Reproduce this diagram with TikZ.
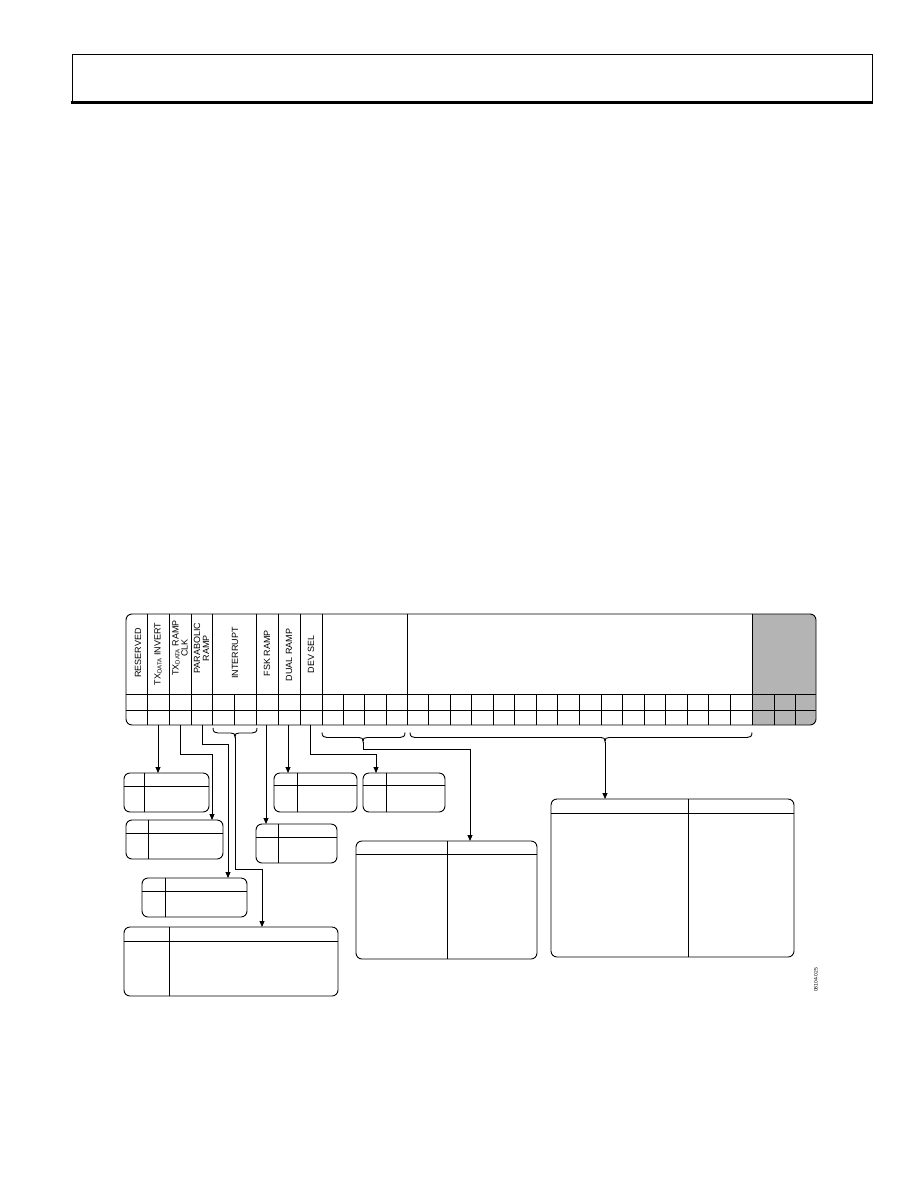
\documentclass[tikz,border=0pt]{standalone}
\usepackage{fontspec}
\setmainfont{Liberation Sans}
\usetikzlibrary{arrows.meta}
\definecolor{shadec}{RGB}{180,180,180}
\newcommand\regbox[7]{%
  \node[tbox, anchor=north west, minimum width={(#4-#2)*1pt}, minimum height={(#5-#3)*1pt}] (#1) at (#2,#3) {};
  \draw (#6,#3) -- (#6,#5);
  \draw (#2,#7) -- (#4,#7);}
\newcommand\bracedraw[5]{% x1 x2 xtip yline tipname
  \draw (#1,#4-5) .. controls (#1,#4-1) and (#1+2,#4) .. (#1+5,#4) -- (#3-4,#4)
    .. controls (#3-1,#4) and (#3,#4+1) .. (#3,#4+4)
    .. controls (#3,#4+1) and (#3+1,#4) .. (#3+4,#4) -- (#2-5,#4)
    .. controls (#2-2,#4) and (#2,#4-1) .. (#2,#4-5);
  \coordinate (#5) at (#3,#4+4);}
\begin{document}
\begin{tikzpicture}[x=1pt,y=-1pt, line width=0.9pt,
  lbl/.style={rotate=90, font=\fontsize{9}{9}\selectfont, align=center, inner sep=0pt},
  arr/.style={-{Triangle[length=6pt,width=5pt]}},
  tbox/.style={draw, rounded corners=6pt, inner sep=0pt, outer sep=0pt}]
\useasboundingbox (0,0) rectangle (918,1188);

% page header frame
\draw (72,54) rectangle (872,103);
\draw[line width=2.6pt] (71,102.5) -- (873,102.5);

% register table
\fill[shadec, rounded corners=6pt] (752,614) rectangle (816,725);
\fill[shadec] (752,614) rectangle (790,725);
\draw[rounded corners=6pt] (126,614) rectangle (816,725);
\draw (126,694) -- (816,694);
\draw (126,710) -- (816,710);
\foreach \x in {147,169,191,212,256,278,300,322,407,752}
  \draw (\x,614) -- (\x,725);
\foreach \x in {234,343,364.5,386,774,795}
  \draw (\x,694) -- (\x,725);
\foreach \k in {1,...,15}
  \draw ({407+\k*21.5625},694) -- ({407+\k*21.5625},725);

% field labels
\node[lbl] (lres) at (138,653) {RESERVED};
\node[lbl] (linv) at (158,654) {TX\textsubscript{DATA} INVERT};
\node[lbl] (lclk) at (180,648) {TX\textsubscript{DATA} RAMP\\CLK};
\node[lbl] (lpar) at (201.5,648) {PARABOLIC\\RAMP};
\node[lbl] (lint) at (235,653) {INTERRUPT};
\node[lbl] (lfsk) at (267,653) {FSK RAMP};
\node[lbl] (ldual) at (289,655) {DUAL RAMP};
\node[lbl] (ldev) at (311,654) {DEV SEL};

% braces
\bracedraw{213}{257}{235}{733}{tint}
\bracedraw{322}{405}{363}{737.5}{tdev}
\bracedraw{410}{752}{605}{737.5}{tdw}

% boxes
\regbox{bA}{124}{773}{209}{812}{144}{786}
\regbox{bB}{126}{820}{223}{859}{148}{833}
\regbox{bC}{142}{878}{247}{917}{165}{891}
\regbox{bD}{124}{927}{338}{996}{169}{941}
\regbox{bE}{256}{824}{337}{863}{278}{837}
\regbox{bF}{274}{773}{357}{812}{297}{785}
\regbox{bG}{363}{773}{445}{812}{386}{785}
\regbox{bH}{356}{841}{537}{959}{447}{854}
\regbox{bI}{551}{799}{794}{957}{688}{813}

% connector sources and bends
\coordinate (sinv) at (158,725);
\coordinate (sclk) at (180,725);
\coordinate (spar) at (202,725);
\coordinate (sfsk) at (266,725);
\coordinate (sdual) at (288,725);
\coordinate (sdev) at (310,725);
\coordinate (kclk) at (212,754);
\coordinate (kpar) at (228,744);
\coordinate (kint) at (262,869);
\coordinate (kdev) at (376,754);
\coordinate (kdw) at (470,749);

\draw[arr] (sinv) -- (bA.north -| sinv);
\draw[arr] (sclk) |- (kclk) -- (bB.north -| kclk);
\draw[arr] (spar) |- (kpar) -- (bC.north -| kpar);
\draw[arr] (tint) |- (kint) -- (bD.north -| kint);
\draw[arr] (sfsk) -- (bE.north -| sfsk);
\draw[arr] (sdual) -- (bF.north -| sdual);
\draw[arr] (sdev) |- (kdev) -- (bG.north -| kdev);
\draw[arr] (tdev) |- (kdw) -- (bH.north -| kdw);
\draw[arr] (tdw) -- (bI.north -| tdw);

% figure number
\node[rotate=90, font=\fontsize{5}{5}\selectfont, inner sep=0pt] (fig) at (816,980) {08104-025};
\end{tikzpicture}
\end{document}
